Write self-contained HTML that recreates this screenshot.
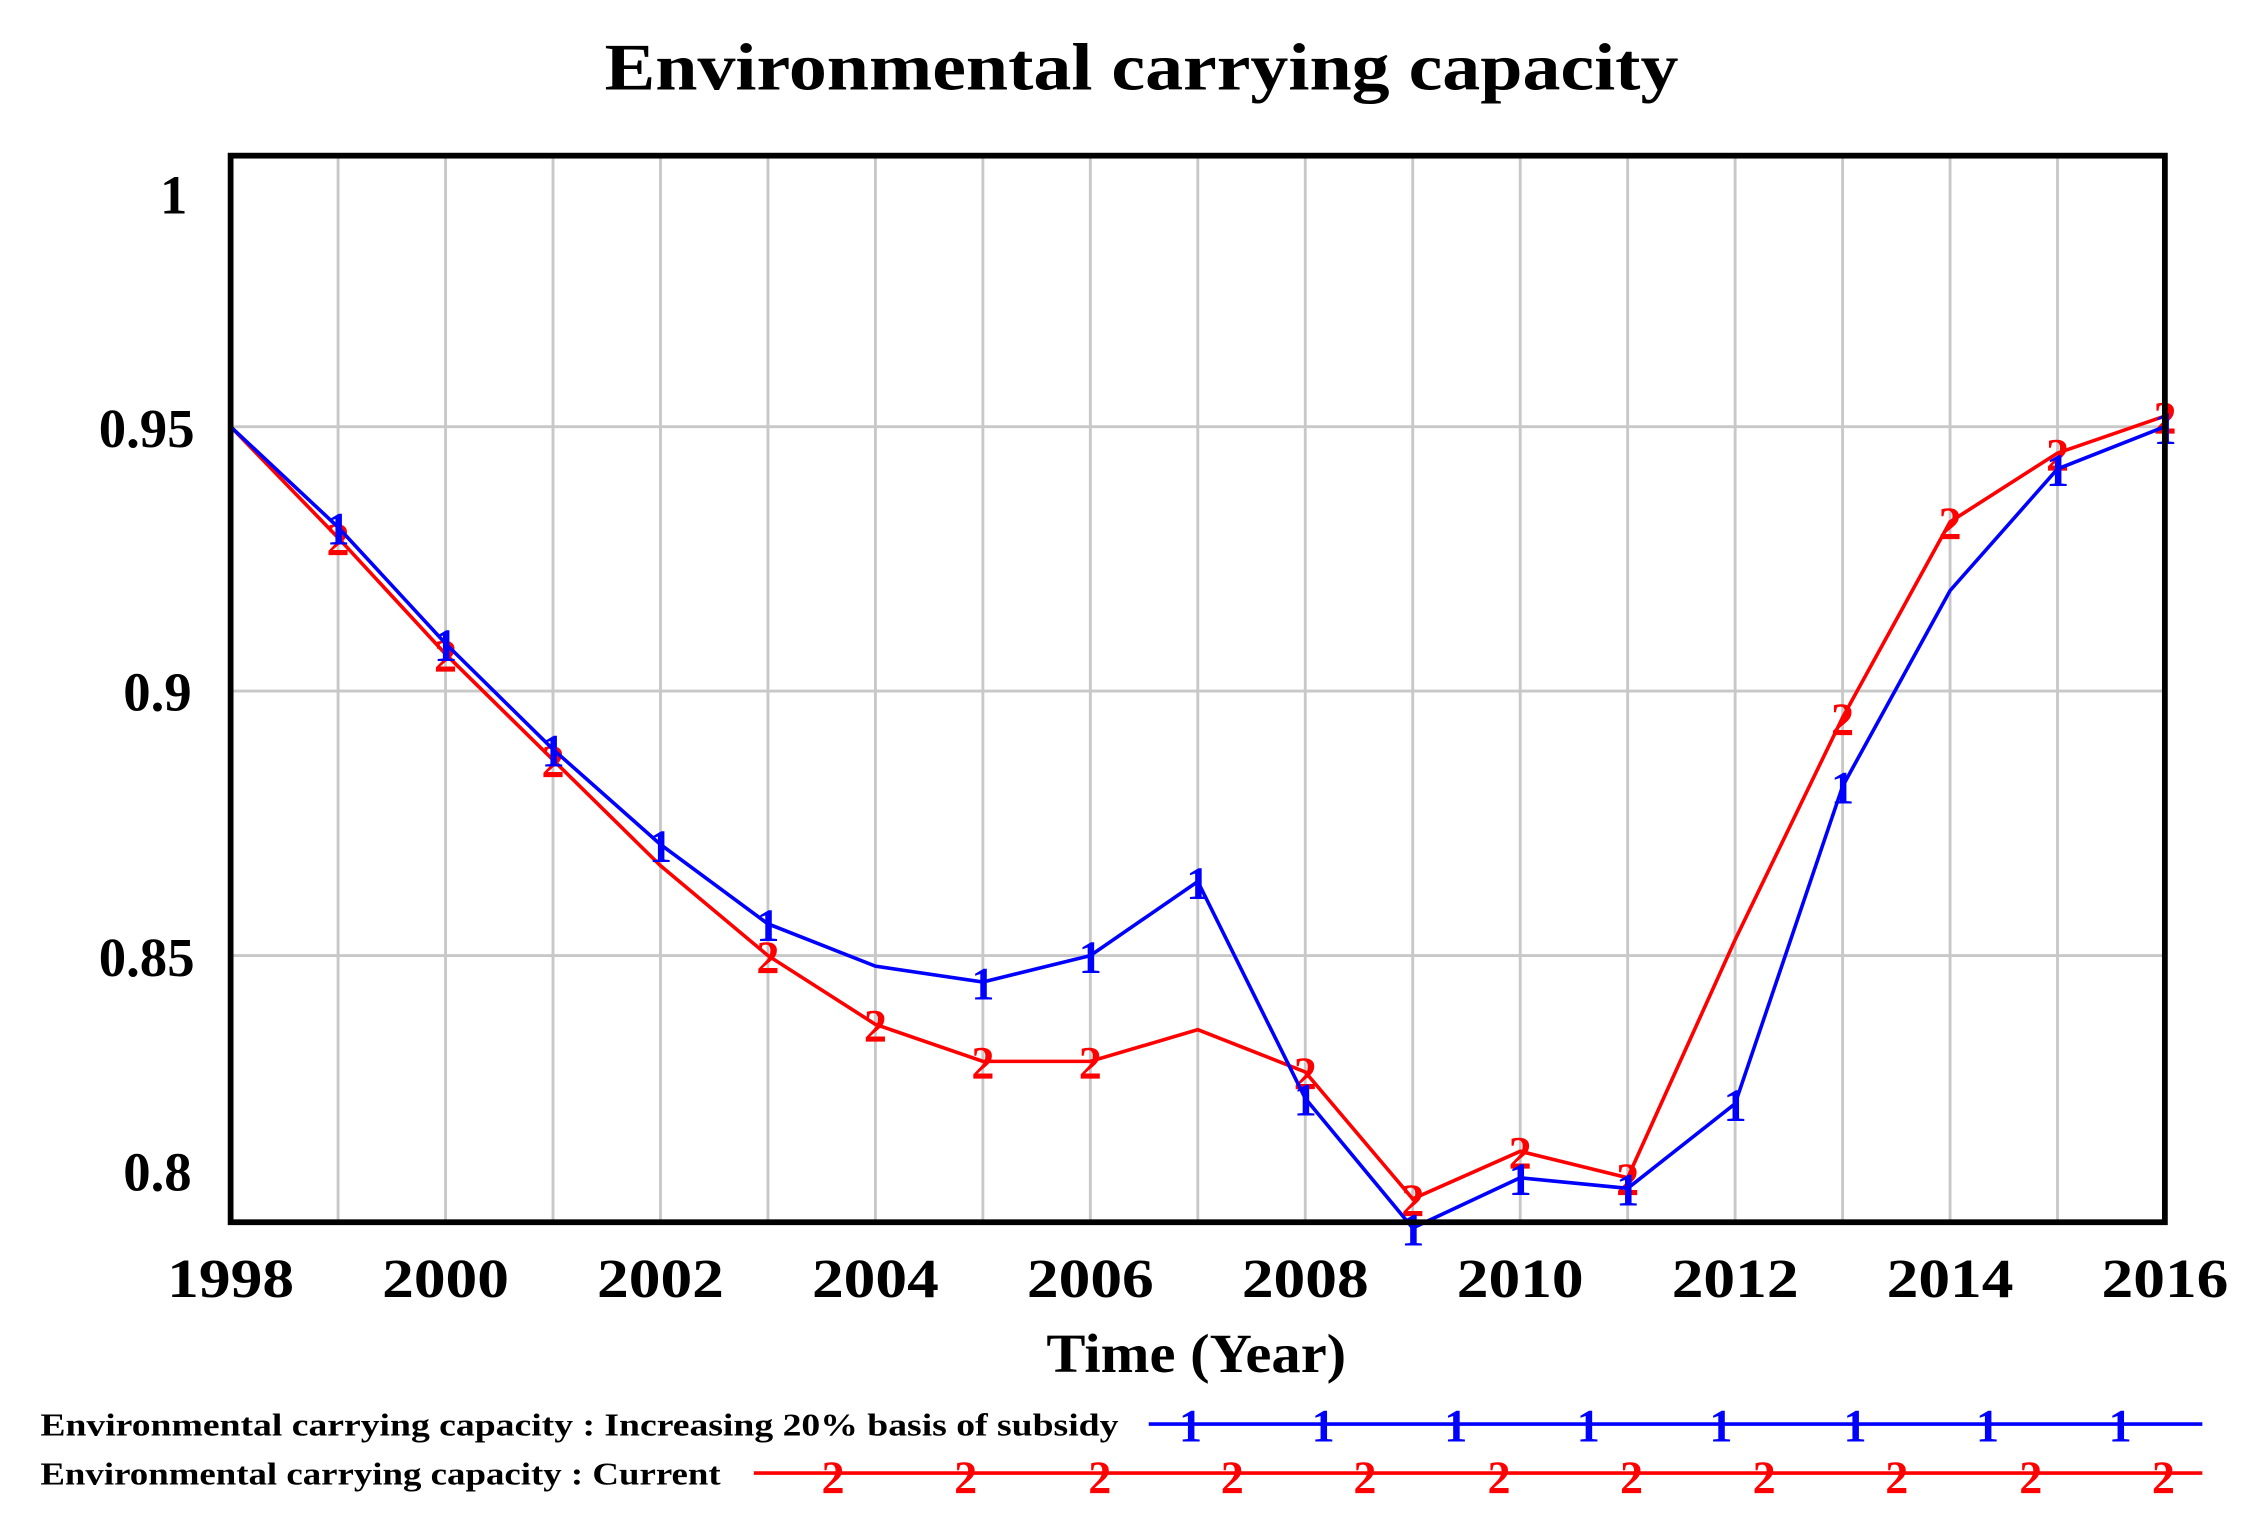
<!DOCTYPE html>
<html><head><meta charset="utf-8"><style>
html,body{margin:0;padding:0;background:#fff;}
svg{display:block;}
text{font-family:"Liberation Serif",serif;font-weight:bold;}
</style></head><body>
<svg id="s" width="2260" height="1535" viewBox="0 0 1568 1065" preserveAspectRatio="none" xmlns="http://www.w3.org/2000/svg">
<text x="792" y="62" font-size="46" text-anchor="middle" textLength="745" lengthAdjust="spacingAndGlyphs">Environmental carrying capacity</text>
<g id="grid" stroke="#c8c8c8" stroke-width="2"></g>
<g id="lines"></g>
<rect x="160" y="108" width="1342" height="740" fill="none" stroke="#000" stroke-width="4"/>
<g font-size="38" text-anchor="end">
<text x="130" y="148">1</text>
<text x="135" y="310">0.95</text>
<text x="133" y="493">0.9</text>
<text x="135" y="677">0.85</text>
<text x="133" y="826">0.8</text>
</g>
<g id="xl" font-size="38" text-anchor="middle"></g>
<text x="830" y="952" font-size="38" text-anchor="middle" textLength="208" lengthAdjust="spacingAndGlyphs">Time (Year)</text>
<text x="28" y="996" font-size="22" textLength="748" lengthAdjust="spacingAndGlyphs">Environmental carrying capacity : Increasing 20% basis of subsidy</text>
<text x="28" y="1030" font-size="22" textLength="472" lengthAdjust="spacingAndGlyphs">Environmental carrying capacity : Current</text>
<line x1="797" y1="988" x2="1528" y2="988" stroke="#0000ff" stroke-width="2.5"/>
<line x1="523" y1="1022" x2="1528" y2="1022" stroke="#ff0000" stroke-width="2.5"/>
<g id="leg"></g>
</svg>
<script>
var NS="http://www.w3.org/2000/svg";
function el(p,t,a,txt){var e=document.createElementNS(NS,t);for(var k in a)e.setAttribute(k,a[k]);if(txt)e.textContent=txt;document.getElementById(p).appendChild(e);}
function X(yr){return 160+(yr-1998)*74.56;}
function Y(v){return 112.5+(1-v)*3670;}
for(var y=1999;y<2016;y++)el("grid","line",{x1:X(y),y1:108,x2:X(y),y2:848});
[0.95,0.9,0.85].forEach(function(v){el("grid","line",{x1:160,y1:Y(v),x2:1502,y2:Y(v)});});
for(var y=1998;y<=2016;y+=2)el("xl","text",{x:X(y),y:900,textLength:88,lengthAdjust:"spacingAndGlyphs"},""+y);
var B=[0.95,0.931,0.909,0.889,0.871,0.856,0.848,0.845,0.850,0.864,0.823,0.7985,0.808,0.806,0.822,0.882,0.919,0.942,0.950];
var R=[0.95,0.929,0.907,0.887,0.867,0.850,0.837,0.830,0.830,0.836,0.828,0.804,0.813,0.808,0.853,0.895,0.932,0.945,0.952];
function draw(d,c,lab,skip){var p="";d.forEach(function(v,i){p+=(i?"L":"M")+X(1998+i)+","+Y(v);});
el("lines","path",{d:p,fill:"none",stroke:c,"stroke-width":2.5});
d.forEach(function(v,i){if(i==0||skip.indexOf(1998+i)>=0)return;el("lines","text",{x:X(1998+i),y:Y(v)+12,fill:c,"font-size":32,"text-anchor":"middle","font-family":"Liberation Sans, sans-serif","font-weight":"normal"},lab);});}
draw(R,"#ff0000","2",[2002,2007,2012]);draw(B,"#0000ff","1",[2004,2014]);
[826,918,1010,1102,1194,1287,1379,1471].forEach(function(x){el("leg","text",{x:x,y:1000,fill:"#0000ff","font-size":32,"text-anchor":"middle","font-family":"Liberation Sans, sans-serif"},"1");});
[578,670,763,855,947,1040,1132,1224,1316,1409,1501].forEach(function(x){el("leg","text",{x:x,y:1036,fill:"#ff0000","font-size":32,"text-anchor":"middle","font-family":"Liberation Sans, sans-serif"},"2");});
</script>
</body></html>
